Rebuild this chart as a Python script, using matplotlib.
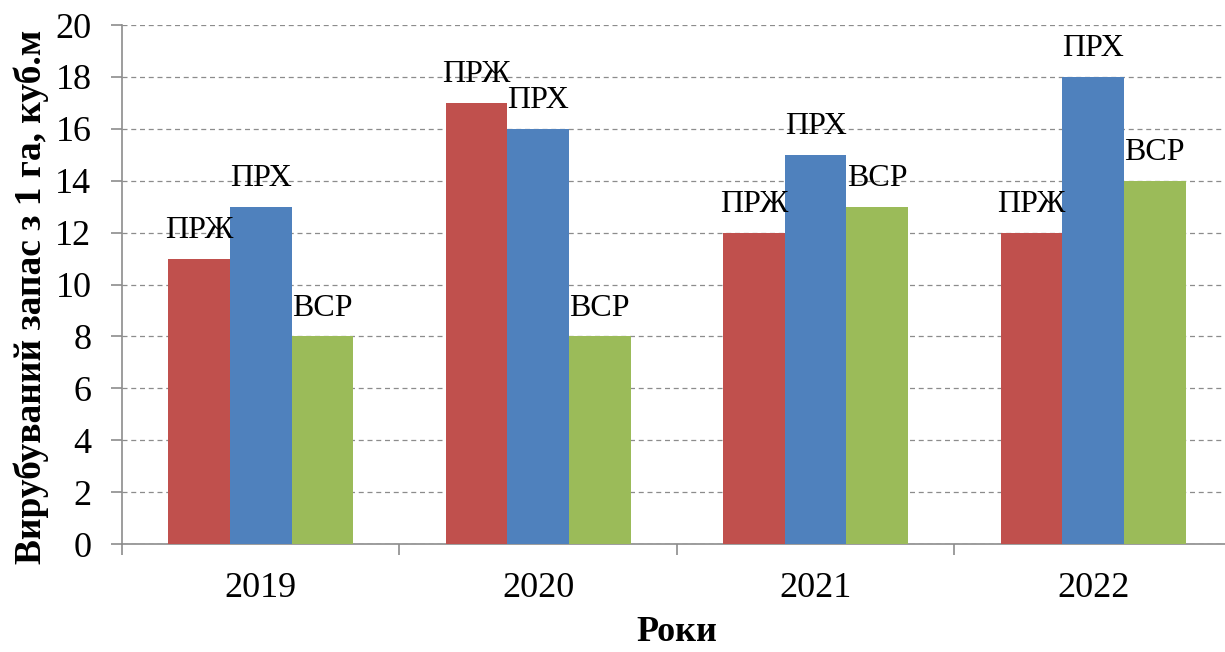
import matplotlib.pyplot as plt
import numpy as np

years = ["2019", "2020", "2021", "2022"]
series_names = ["ПРЖ", "ПРХ", "ВСР"]
prz = [11, 17, 12, 12]
prh = [13, 16, 15, 18]
vsr = [8, 8, 13, 14]
colors = ["#C0504D", "#4F81BD", "#9BBB59"]

plt.rcParams["font.family"] = ["Liberation Serif", "DejaVu Serif"]

fig = plt.figure(figsize=(12.25, 6.52), dpi=100)
ax = fig.add_axes([0.0996, 0.1656, 0.906, 0.796])

x = np.arange(len(years))
width = 0.222
for i, (name, vals) in enumerate(zip(series_names, [prz, prh, vsr])):
    xs = x + (i - 1) * width
    ax.bar(xs, vals, width=width, color=colors[i], zorder=3)
    for xi, v in zip(xs, vals):
        ax.annotate(name, (xi, v), xytext=(0, 10), textcoords="offset points",
                    ha="center", va="bottom", fontsize=23, color="black", zorder=4)

ax.set_xlim(-0.5, 3.5)
ax.set_ylim(0, 20)
ax.set_yticks(range(0, 21, 2))
ax.yaxis.grid(True, linestyle=(0, (4, 3)), color="#8c8c8c", linewidth=0.9, zorder=0)

ax.set_xticks(x)
ax.set_xticklabels(years)
ax.set_xticks(np.arange(-0.5, 3.6, 1), minor=True)
ax.tick_params(axis="x", which="major", length=0, pad=20, labelsize=26)
ax.tick_params(axis="x", which="minor", length=8, color="#8c8c8c", width=1.2)
ax.tick_params(axis="y", length=8, color="#8c8c8c", width=1.2, pad=14, labelsize=26)

for side in ["top", "right"]:
    ax.spines[side].set_visible(False)
for side in ["left", "bottom"]:
    ax.spines[side].set_color("#8c8c8c")
    ax.spines[side].set_linewidth(1.2)

ax.set_ylabel("Вирубуваний запас з 1 га, куб.м", fontsize=27, fontweight="bold")
ax.yaxis.set_label_coords(-0.066, 0.476)
ax.set_xlabel("Роки", fontsize=26, fontweight="bold", labelpad=8)

fig.savefig("out.png", dpi=100, facecolor="white")
plt.close(fig)
